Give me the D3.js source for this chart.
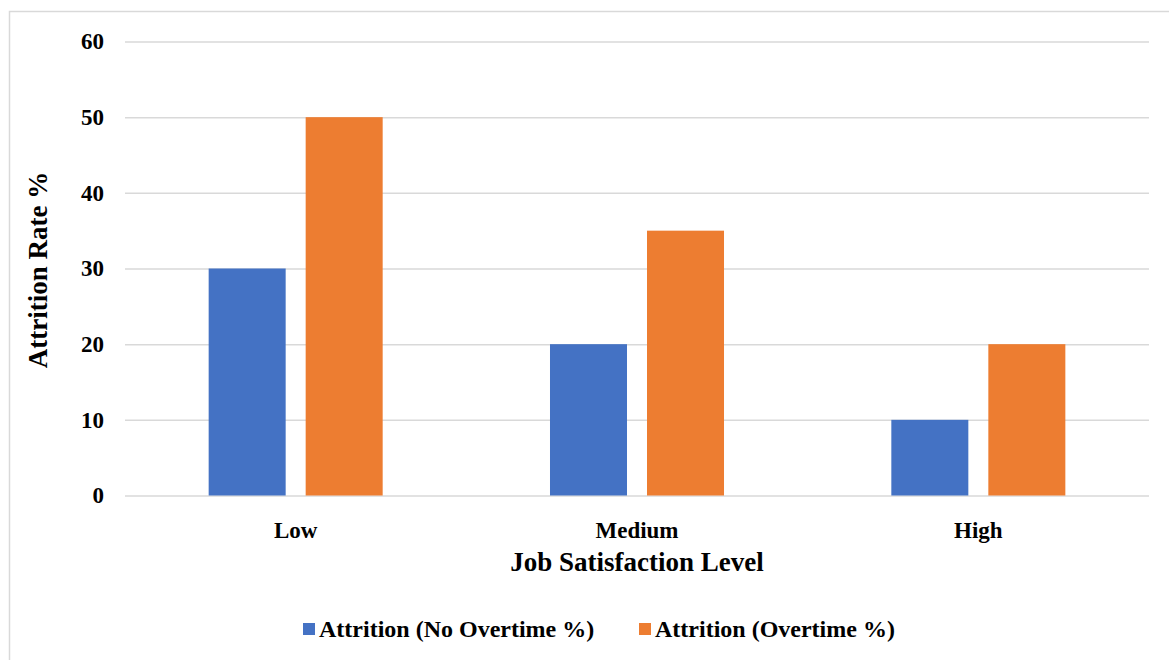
<!DOCTYPE html>
<html>
<head>
<meta charset="utf-8">
<script src="https://cdn.jsdelivr.net/npm/d3@7"></script>
<style>
  html, body { margin: 0; padding: 0; background: #fff; }
  svg { display: block; }
  text { font-family: "Liberation Serif", "Times New Roman", serif; font-weight: bold; fill: #000; }
</style>
</head>
<body>
<svg id="chart" width="1169" height="660"></svg>
<script>
// Attrition rate by job satisfaction level, split by overtime status
const categories = ["Low", "Medium", "High"];
const seriesNames = ["Attrition (No Overtime %)", "Attrition (Overtime %)"];
const noOvertime = [30, 20, 10];
const overtime = [50, 35, 20];
const yTicks = [0, 10, 20, 30, 40, 50, 60];
const colors = ["#4472C4", "#ED7D31"];

const svg = d3.select("#chart");
const serif = "'Liberation Serif', 'Times New Roman', serif";

// outer chart frame
svg.append("rect")
  .attr("x", 9.5).attr("y", 11.5)
  .attr("width", 1300).attr("height", 800)
  .attr("fill", "#fff").attr("stroke", "#d9d9d9").attr("stroke-width", 1.5);

const plot = { left: 125, right: 1149, top: 41.5, bottom: 495.5 };

const x = d3.scaleBand().domain(categories).range([plot.left, plot.right]).paddingInner(0).paddingOuter(0);
const y = d3.scaleLinear().domain([0, 60]).range([plot.bottom, plot.top]);

// bars: two per category, centred in the band with a small gap between them
const barW = x.bandwidth() * 0.2256;
const gap = x.bandwidth() * 0.0586;

// value axis with full-width gridlines
const yAxis = d3.axisLeft(y).tickValues(yTicks).tickSize(-(plot.right - plot.left)).tickFormat(d3.format("d")).tickPadding(21);
const gy = svg.append("g").attr("transform", `translate(${plot.left},0)`).call(yAxis);
gy.select(".domain").remove();
gy.selectAll(".tick line").attr("stroke", "#d9d9d9").attr("stroke-width", 1.5);
gy.selectAll(".tick text").attr("font-size", 23).attr("dy", "0.32em").attr("fill", "#000")
  .style("font-family", serif).style("font-weight", "bold");

const data = categories.map((c, i) => ({ cat: c, vals: [noOvertime[i], overtime[i]] }));

const groups = svg.append("g").selectAll("g").data(data).join("g")
  .attr("transform", d => `translate(${x(d.cat) + x.bandwidth() / 2},0)`);

groups.selectAll("rect").data(d => d.vals.map((v, k) => ({ v, k }))).join("rect")
  .attr("x", d => d.k === 0 ? -gap / 2 - barW : gap / 2)
  .attr("width", barW)
  .attr("y", d => y(d.v))
  .attr("height", d => y(0) - y(d.v))
  .attr("fill", d => colors[d.k]);

// category axis labels
const xAxis = d3.axisBottom(x).tickSize(0).tickPadding(26);
const gx = svg.append("g").attr("transform", `translate(0,${plot.bottom})`).call(xAxis);
gx.select(".domain").remove();
gx.selectAll(".tick text").attr("font-size", 23).attr("fill", "#000")
  .style("font-family", serif).style("font-weight", "bold");

// axis titles
svg.append("text")
  .attr("x", (plot.left + plot.right) / 2).attr("y", 571)
  .attr("text-anchor", "middle").attr("font-size", 27)
  .text("Job Satisfaction Level");

svg.append("text")
  .attr("transform", `translate(47,270) rotate(-90)`)
  .attr("text-anchor", "middle").attr("font-size", 27)
  .text("Attrition Rate %");

// legend
const legend = svg.append("g");
const legendX = [303, 639];
seriesNames.forEach((name, i) => {
  const g = legend.append("g").attr("transform", `translate(${legendX[i]},0)`);
  g.append("rect").attr("x", 0).attr("y", 623).attr("width", 12).attr("height", 12).attr("fill", colors[i]);
  g.append("text").attr("x", 16).attr("y", 637).attr("font-size", 24).text(name);
});
</script>
</body>
</html>
